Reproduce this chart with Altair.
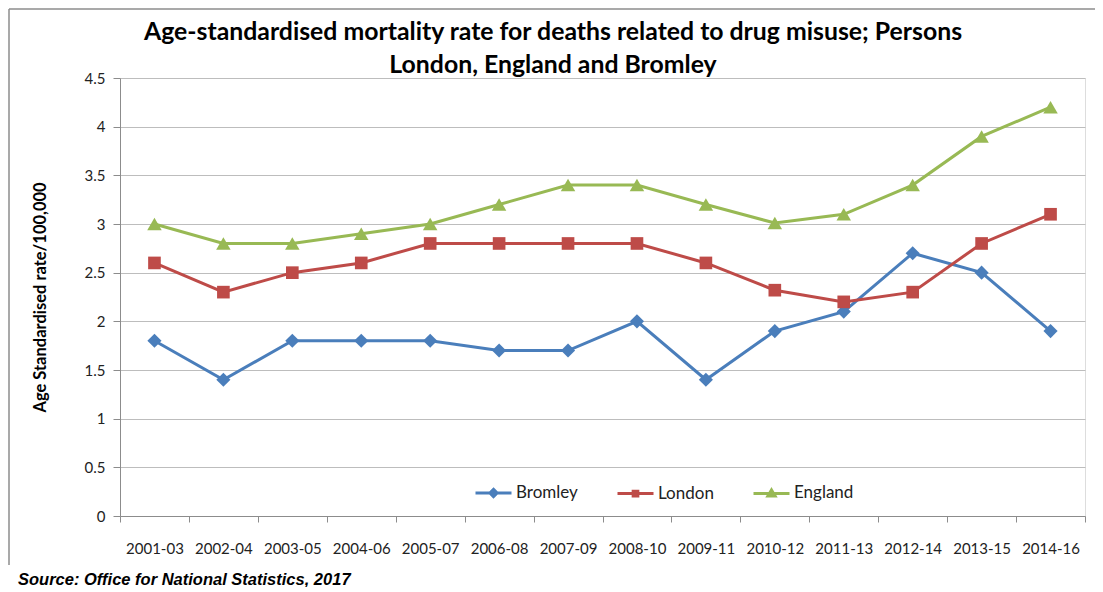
import altair as alt
import pandas as pd

periods = ["2001-03", "2002-04", "2003-05", "2004-06", "2005-07", "2006-08", "2007-09",
           "2008-10", "2009-11", "2010-12", "2011-13", "2012-14", "2013-15", "2014-16"]
bromley = [1.8, 1.4, 1.8, 1.8, 1.8, 1.7, 1.7, 2.0, 1.4, 1.9, 2.1, 2.7, 2.5, 1.9]
london = [2.6, 2.3, 2.5, 2.6, 2.8, 2.8, 2.8, 2.8, 2.6, 2.32, 2.2, 2.3, 2.8, 3.1]
england = [3.0, 2.8, 2.8, 2.9, 3.0, 3.2, 3.4, 3.4, 3.2, 3.01, 3.1, 3.4, 3.9, 4.2]
series_names = ["Bromley", "London", "England"]
series_colors = ["#4A7EBB", "#BE4B48", "#98B954"]
marker_shapes = ["diamond", "square", "triangle-up"]
marker_sizes = [200, 160, 210]
legend_paths = [
    "M-1,0H1M0,-0.2L0.2,0L0,0.2L-0.2,0Z",
    "M-1,0H1M-0.13,-0.13H0.13V0.13H-0.13Z",
    "M-1,0H1M0,-0.2L0.2,0.14L-0.2,0.14Z",
]
y_ticks = [0, 0.5, 1, 1.5, 2, 2.5, 3, 3.5, 4, 4.5]
title_lines = ["Age-standardised mortality rate for deaths related to drug misuse; Persons",
               "London, England and Bromley"]
source_text = "Source: Office for National Statistics, 2017"

rows = []
for name, vals in zip(series_names, [bromley, london, england]):
    for p, v in zip(periods, vals):
        rows.append({"period": p, "series": name, "value": v})
df = pd.DataFrame(rows)
one = pd.DataFrame({"k": [0]})

FONT = "Lato"

x_enc = alt.X("period:N", sort=periods, title=None,
              scale=alt.Scale(domain=periods, paddingInner=0, paddingOuter=0),
              axis=alt.Axis(labelAngle=0, tickBand="extent", grid=False,
                            domainColor="#8c8c8c", tickColor="#8c8c8c", tickSize=6,
                            labelFont=FONT, labelFontSize=15, labelColor="#222",
                            labelPadding=19))
y_enc = alt.Y("value:Q", title="Age Standardised rate/100,000",
              scale=alt.Scale(domain=[0, 4.5], nice=False),
              axis=alt.Axis(values=y_ticks, format=".1~f", grid=True, gridColor="#bdbdbd",
                            domainColor="#8c8c8c", tickColor="#8c8c8c", tickSize=7,
                            labelFont=FONT, labelFontSize=15, labelColor="#222",
                            labelPadding=8, titleFont=FONT, titleFontSize=16.5,
                            titleFontWeight="bold", titleColor="#000",
                            titlePadding=36))
col_scale = alt.Scale(domain=series_names, range=series_colors)

legend_def = alt.Legend(
    title=None, orient="none", direction="horizontal",
    legendX=354, legendY=395, columnPadding=33,
    labelFont=FONT, labelFontSize=17, labelColor="#222",
    labelOffset=3, symbolSize=1296, symbolStrokeWidth=3, symbolOpacity=1)

base = alt.Chart(df)

lines = base.mark_line(strokeWidth=3).encode(
    x=x_enc, y=y_enc,
    stroke=alt.Stroke("series:N", scale=col_scale, legend=legend_def),
)

marker_layers = []
for name, shp, sz in zip(series_names, marker_shapes, marker_sizes):
    marker_layers.append(
        base.transform_filter(alt.datum.series == name)
        .mark_point(filled=True, shape=shp, size=sz, opacity=1)
        .encode(x=x_enc, y=y_enc,
                fill=alt.Fill("series:N", scale=col_scale, legend=legend_def))
    )

legend_layer = base.transform_filter("false").mark_point(
    filled=True, opacity=1, strokeWidth=3
).encode(
    x=x_enc, y=y_enc,
    fill=alt.Fill("series:N", scale=col_scale, legend=legend_def),
    stroke=alt.Stroke("series:N", scale=col_scale, legend=legend_def),
    shape=alt.Shape("series:N", scale=alt.Scale(domain=series_names, range=legend_paths),
                    legend=legend_def),
)

frame_left = alt.Chart(one).mark_rule(color="#8c8c8c", strokeWidth=1.5).encode(
    x=alt.value(-111), y=alt.value(-69), y2=alt.value(487))
frame_top = alt.Chart(one).mark_rule(color="#8c8c8c", strokeWidth=1.5).encode(
    x=alt.value(-111), x2=alt.value(980), y=alt.value(-69))

title1 = alt.Chart(one).mark_text(
    text=title_lines[0], align="center", baseline="alphabetic", font=FONT,
    fontSize=24.8, fontWeight="bold", color="#000"
).encode(x=alt.value(433), y=alt.value(-38))
title2 = alt.Chart(one).mark_text(
    text=title_lines[1], align="center", baseline="alphabetic", font=FONT,
    fontSize=24.8, fontWeight="bold", color="#000"
).encode(x=alt.value(433), y=alt.value(-5))

source = alt.Chart(one).mark_text(
    text=source_text, align="left", baseline="alphabetic",
    font="Liberation Sans", fontSize=16.5, fontStyle="italic",
    fontWeight="bold", color="#000"
).encode(x=alt.value(-102), y=alt.value(507))

chart = alt.layer(frame_left, frame_top, title1, title2, lines, *marker_layers,
                  legend_layer, source).properties(
    width=965, height=438,
    autosize=alt.AutoSizeParams(type="none"),
    padding={"left": 112, "top": 70, "right": 10, "bottom": 71},
).configure_view(stroke=None).configure(background="white")

chart.save("out.html", embed_options={"renderer": "svg", "actions": False})
